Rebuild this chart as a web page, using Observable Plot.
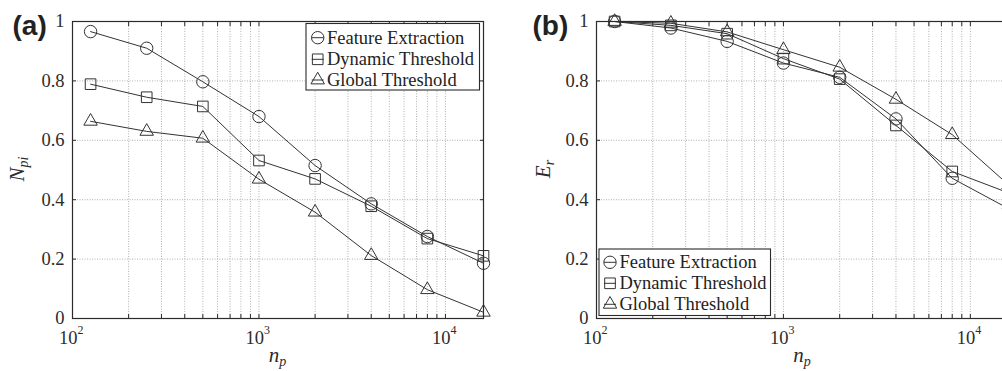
<!DOCTYPE html>
<html><head><meta charset="utf-8">
<script src="https://cdn.jsdelivr.net/npm/d3@7"></script>
<script src="https://cdn.jsdelivr.net/npm/@observablehq/plot@0.6"></script>
<style>
html,body{margin:0;padding:0;background:#fff;overflow:hidden;}
#wrap{position:relative;width:1002px;height:371px;overflow:hidden;background:#fff;}
#wrap svg{position:absolute;top:0;}
</style></head><body><div id="wrap"></div>
<script>
// ---- data ----
const np = [125, 250, 500, 1000, 2000, 4000, 8000, 16000];
const seriesNames = ["Feature Extraction", "Dynamic Threshold", "Global Threshold"];
const seriesSymbols = ["circle", "square", "triangle"];

// panel (a): N_pi
const npiFeature = [0.966, 0.91, 0.797, 0.68, 0.515, 0.386, 0.276, 0.186];
const npiDynamic = [0.789, 0.745, 0.714, 0.532, 0.47, 0.378, 0.269, 0.211];
const npiGlobal  = [0.664, 0.63, 0.607, 0.469, 0.358, 0.212, 0.097, 0.021];

// panel (b): E_r
const erFeature = [1.0, 0.978, 0.933, 0.86, 0.812, 0.672, 0.472, 0.37];
const erDynamic = [1.0, 0.987, 0.959, 0.875, 0.806, 0.65, 0.495, 0.423];
const erGlobal  = [1.0, 0.994, 0.965, 0.905, 0.846, 0.738, 0.619, 0.45];

const xMajorTicks = [100, 1000, 10000];
const xExponents = ["2", "3", "4"];
const xMinorTicks = [200,300,400,500,600,700,800,900,2000,3000,4000,5000,6000,7000,8000,9000];
const yTicks = [0, 0.2, 0.4, 0.6, 0.8, 1];
const xDomain = [100, 16000];

const SERIF = "Liberation Serif, Times New Roman, serif";
const INK = "#2b2b2b";
const symR = {circle: 6.2, square: 6.0, triangle: 5.0};

function makePanel({values, left, width, marginLeft, marginRight, letter, letterLeft, yName, ySub, yLabelX, legendBox}) {
  const data = seriesNames.flatMap((s, k) => np.map((x, i) => ({np: x, v: values[k][i], s, k})));
  const allX = xMajorTicks.concat(xMinorTicks);
  const fmt = d => (d % 1 === 0 ? String(d) : d.toFixed(1));
  const grid = {stroke: "#a8a8a8", strokeDasharray: "1,1.5", strokeWidth: 0.9};
  const marks = [
    Plot.ruleX(xMinorTicks.concat([1000, 10000]), grid),
    Plot.ruleY(yTicks.slice(1, -1), grid),
    Plot.axisX(allX, {anchor: "bottom", tickSize: -4, tickFormat: () => "", label: null, stroke: INK}),
    Plot.axisX(allX, {anchor: "top", tickSize: -4, tickFormat: () => "", label: null, stroke: INK}),
    Plot.axisY(yTicks, {anchor: "right", tickSize: -4, tickFormat: () => "", label: null, stroke: INK}),
    Plot.axisY(yTicks, {anchor: "left", tickSize: -4, tickFormat: () => "", label: null, stroke: INK}),
    Plot.axisY(yTicks, {anchor: "left", tickSize: 0, tickPadding: 8, tickFormat: fmt, label: null,
      fontSize: 18.5, fontFamily: SERIF, fill: INK}),
    Plot.text(xMajorTicks, {x: d => d, text: () => "10", frameAnchor: "bottom", lineAnchor: "bottom",
      textAnchor: "end", dx: 5, dy: 25, fontSize: 18.5, fontFamily: SERIF, fill: INK}),
    Plot.text(xMajorTicks, {x: d => d, text: (d, i) => xExponents[i], frameAnchor: "bottom", lineAnchor: "bottom",
      textAnchor: "start", dx: 5, dy: 15, fontSize: 12, fontFamily: SERIF, fill: INK}),
    Plot.line(data, {x: "np", y: "v", z: "s", stroke: "#333", strokeWidth: 1}),
    ...seriesSymbols.map((sym, k) => Plot.dot(data.filter(d => d.k === k),
      {x: "np", y: "v", symbol: sym, r: symR[sym], stroke: "#333", strokeWidth: 1, fill: "none"})),
    Plot.frame({stroke: INK, strokeWidth: 1.2}),
    Plot.text([letter], {frameAnchor: "top-left", dx: letterLeft - marginLeft, dy: 5,
      textAnchor: "start", lineAnchor: "middle", fontSize: 28, fontWeight: "bold",
      fontFamily: "Liberation Sans, Arial, sans-serif", fill: "#222"})
  ];
  const svg = Plot.plot({
    width, height: 371, marginLeft, marginRight, marginTop: 21, marginBottom: 53,
    style: {fontFamily: SERIF, background: "transparent", color: INK, overflow: "visible"},
    x: {type: "log", domain: xDomain, axis: null},
    y: {domain: [0, 1], axis: null},
    marks
  });
  svg.style.left = left + "px";
  const s = d3.select(svg);
  const plotCx = marginLeft + (width - marginLeft - marginRight) / 2;
  // y label (rotated, italic with subscript)
  const yl = s.append("text").attr("transform", `translate(${yLabelX},169) rotate(-90)`)
    .attr("text-anchor", "middle").attr("font-family", SERIF).attr("font-style", "italic").attr("fill", INK);
  yl.append("tspan").attr("font-size", 21).text(yName);
  yl.append("tspan").attr("font-size", 14).attr("dy", 4).text(ySub);
  // x label
  const xl = s.append("text").attr("x", plotCx).attr("y", 362).attr("text-anchor", "middle")
    .attr("font-family", SERIF).attr("font-style", "italic").attr("fill", INK);
  xl.append("tspan").attr("font-size", 21).text("n");
  xl.append("tspan").attr("font-size", 14).attr("dy", 4).text("p");
  // legend
  const {x0, y0, x1, y1, rows, mx, tx} = legendBox;
  const lg = s.append("g");
  lg.append("rect").attr("x", x0).attr("y", y0).attr("width", x1 - x0).attr("height", y1 - y0)
    .attr("fill", "#fff").attr("stroke", INK).attr("stroke-width", 1.1);
  const d3sym = {circle: d3.symbolCircle, square: d3.symbolSquare, triangle: d3.symbolTriangle};
  seriesNames.forEach((name, k) => {
    const cy = rows[k];
    const sym = seriesSymbols[k];
    lg.append("line").attr("x1", mx - 6).attr("x2", mx + 6).attr("y1", cy).attr("y2", cy)
      .attr("stroke", "#333").attr("stroke-width", 1);
    lg.append("path").attr("transform", `translate(${mx},${cy})`)
      .attr("d", d3.symbol(d3sym[sym], Math.PI * symR[sym] * symR[sym])())
      .attr("fill", "none").attr("stroke", "#333").attr("stroke-width", 1);
    lg.append("text").attr("x", tx).attr("y", cy).attr("dy", "0.33em").attr("text-anchor", "start")
      .attr("font-family", SERIF).attr("font-size", 18.5).attr("fill", "#222").text(name);
  });
  return svg;
}

const wrap = document.getElementById("wrap");
wrap.appendChild(makePanel({
  values: [npiFeature, npiDynamic, npiGlobal], left: 0, width: 500, marginLeft: 72, marginRight: 17,
  letter: "(a)", letterLeft: 12, yName: "N", ySub: "pi", yLabelX: 24,
  legendBox: {x0: 306, y0: 23.5, x1: 479.5, y1: 90, rows: [37.7, 59.3, 80], mx: 317.7, tx: 327}
}));
wrap.appendChild(makePanel({
  values: [erFeature, erDynamic, erGlobal], left: 500, width: 530, marginLeft: 96, marginRight: 22,
  letter: "(b)", letterLeft: 32, yName: "E", ySub: "r", yLabelX: 50,
  legendBox: {x0: 99, y0: 249, x1: 270.5, y1: 315.5, rows: [262.3, 283.3, 304.3], mx: 110, tx: 119.5}
}));
</script></body></html>
